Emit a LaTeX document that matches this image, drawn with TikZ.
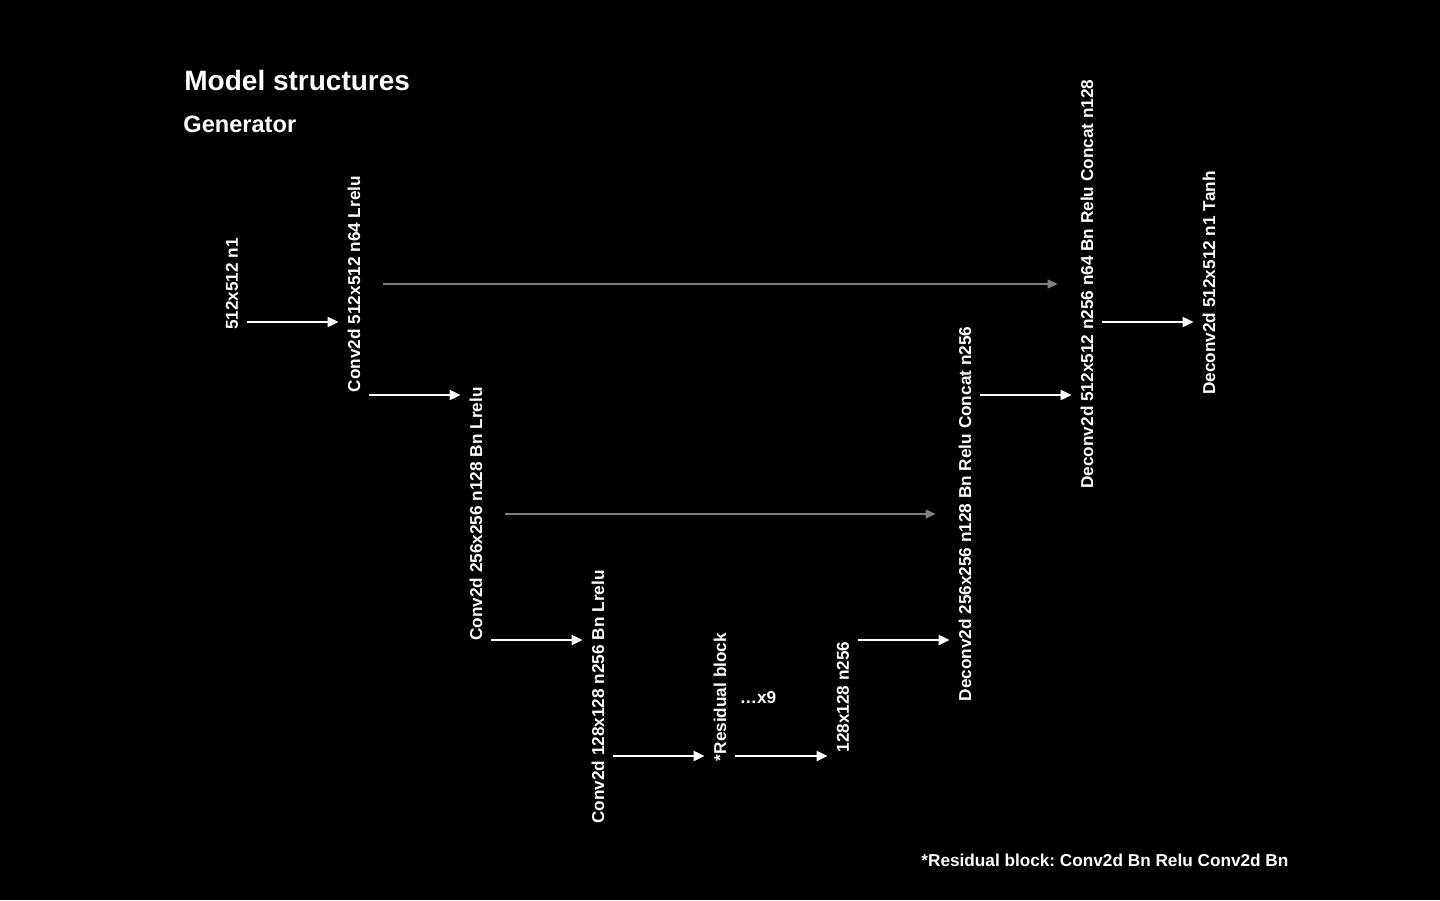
\documentclass[tikz,border=0pt]{standalone}
\usepackage{fontspec}
\setmainfont{Liberation Sans}
\usetikzlibrary{arrows.meta}
\frenchspacing

\begin{document}
\begin{tikzpicture}[
    x=0.5pt, y=-0.5pt,
    every node/.style={text=white, font=\bfseries\fontsize{8.6}{10}\selectfont},
    layer/.style={rotate=90, inner sep=0pt, minimum height=15pt},
    caption/.style={anchor=base west, inner sep=0pt},
    flow/.style={draw=white, line width=1pt, -{Triangle[length=5.5pt, width=5pt]}},
    skip/.style={draw=gray, line width=0.8pt, -{Triangle[length=5pt, width=4.5pt]},
                 shorten <=7pt, shorten >=7pt},
]
  \fill[black] (0,0) rectangle (1440,900);
  \useasboundingbox (0,0) rectangle (1440,900);

  % titles
  \node [caption, font=\bfseries\fontsize{14}{16}\selectfont]   (title) at (184,90)  {Model structures};
  \node [caption, font=\bfseries\fontsize{11.8}{14}\selectfont] (gen)   at (183,132) {Generator};

  % layers
  \node [layer] (inp) at (232, 284) {512x512 n1};
  \node [layer] (c1)  at (354, 284) {Conv2d 512x512 n64 Lrelu};
  \node [layer] (c2)  at (476, 514) {Conv2d 256x256 n128 Bn Lrelu};
  \node [layer] (c3)  at (598, 697) {Conv2d 128x128 n256 Bn Lrelu};
  \node [layer] (res) at (720, 697) {*Residual block};
  \node []      (rep) at (758, 698) {\ldots x9};
  \node [layer] (mid) at (843, 697) {128x128 n256};
  \node [layer] (d1)  at (965, 514) {Deconv2d 256x256 n128 Bn Relu Concat n256};
  \node [layer] (d2)  at (1087,284) {Deconv2d 512x512 n256 n64 Bn Relu Concat n128};
  \node [layer] (out) at (1209,283) {Deconv2d 512x512 n1 Tanh};

  % main path
  \draw [flow] (inp.south |- 0,322) -- (c1.north  |- 0,322);
  \draw [flow] (c1.south  |- 0,395) -- (c2.north  |- 0,395);
  \draw [flow] (c2.south  |- 0,640) -- (c3.north  |- 0,640);
  \draw [flow] (c3.south  |- 0,756) -- (res.north |- 0,756);
  \draw [flow] (res.south |- 0,756) -- (mid.north |- 0,756);
  \draw [flow] (mid.south |- 0,640) -- (d1.north  |- 0,640);
  \draw [flow] (d1.south  |- 0,395) -- (d2.north  |- 0,395);
  \draw [flow] (d2.south  |- 0,322) -- (out.north |- 0,322);

  % skip connections
  \draw [skip] (c1.south) -- (d2.north);
  \draw [skip] (c2.south) -- (d1.north);

  \node [caption] (note) at (921,866) {*Residual block: Conv2d Bn Relu Conv2d Bn};
\end{tikzpicture}
\end{document}
